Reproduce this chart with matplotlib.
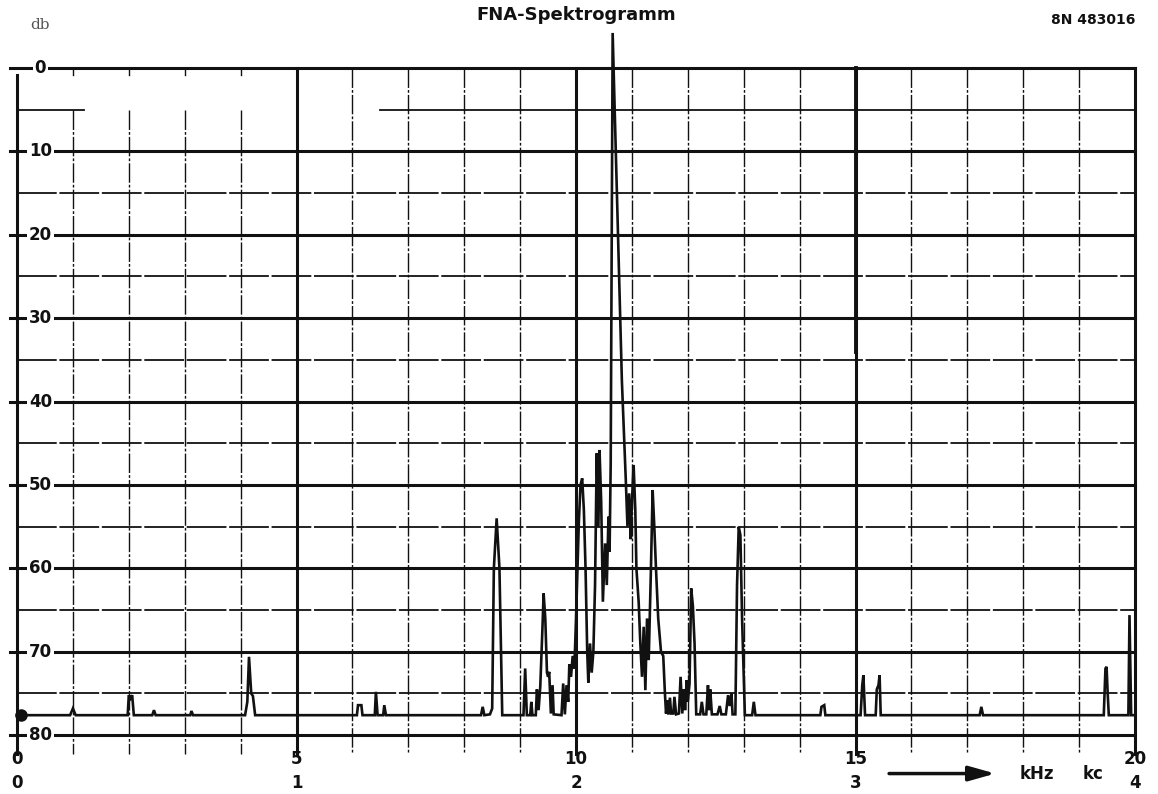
import matplotlib.pyplot as plt

# spectrum trace, frequency in kHz and level in db (0 at top, 80 at bottom)
freq_khz = [
    0.0, 0.95, 1.0, 1.05,
    1.98, 2.0, 2.03, 2.06, 2.09,
    2.42, 2.45, 2.48,
    3.1, 3.12, 3.15,
    4.08, 4.12, 4.15, 4.19, 4.22, 4.26,
    6.08, 6.1, 6.16, 6.18,
    6.4, 6.42, 6.45,
    6.55, 6.57, 6.6,
    8.3, 8.33, 8.36,
    8.46, 8.5, 8.53, 8.58, 8.63, 8.68,
    9.06, 9.09, 9.12,
    9.18, 9.2, 9.22,
    9.28, 9.3, 9.33, 9.36,
    9.4, 9.42, 9.45, 9.48, 9.5, 9.52, 9.55, 9.58, 9.6,
    9.74, 9.77, 9.8,
    9.83, 9.86, 9.88, 9.91, 9.94, 9.97, 10.0,
    10.05, 10.08, 10.11, 10.14, 10.17, 10.2, 10.22, 10.25, 10.28, 10.31,
    10.34, 10.37, 10.4, 10.42, 10.45, 10.48,
    10.52, 10.55, 10.58, 10.6, 10.62,
    10.655,
    10.75, 10.82, 10.89,
    10.92, 10.95, 10.98,
    11.0, 11.03, 11.06, 11.08,
    11.12, 11.15, 11.18, 11.21, 11.24, 11.27, 11.3, 11.34, 11.37,
    11.4, 11.43, 11.47, 11.52,
    11.56, 11.59, 11.61, 11.63, 11.65, 11.68, 11.7,
    11.74, 11.76, 11.79, 11.84, 11.87, 11.9,
    11.93, 11.95, 11.98, 12.0, 12.03,
    12.06, 12.09, 12.12, 12.15,
    12.22, 12.25, 12.28, 12.33, 12.36, 12.38, 12.4, 12.43,
    12.53, 12.57, 12.6,
    12.68, 12.72, 12.75, 12.78, 12.8,
    12.85, 12.88, 12.91, 12.94, 12.97, 13.02,
    13.15, 13.18, 13.21,
    14.37, 14.39, 14.44, 14.46,
    15.09, 15.12, 15.14, 15.17,
    15.36, 15.38, 15.41, 15.43, 15.45,
    17.22, 17.25, 17.28,
    19.44, 19.47, 19.49, 19.51, 19.53,
    19.88, 19.9, 19.93, 20.0,
]
level_db = [
    77.6, 77.6, 76.8, 77.6,
    77.6, 75.2, 75.6, 75.2, 77.6,
    77.6, 77.0, 77.6,
    77.6, 77.1, 77.6,
    77.6, 76.0, 70.6, 75.0, 75.3, 77.6,
    77.6, 76.4, 76.4, 77.6,
    77.6, 74.8, 77.6,
    77.6, 76.4, 77.6,
    77.6, 76.6, 77.6,
    77.5, 76.8, 60.0, 54.0, 60.0, 77.6,
    77.6, 72.0, 77.6,
    77.6, 76.0, 77.6,
    77.6, 74.5, 77.0, 74.2,
    67.0, 63.0, 66.0, 72.5, 73.0, 72.4, 77.4, 74.0, 77.5,
    77.6, 73.8, 77.5,
    74.0, 76.0, 71.5, 73.0, 70.5, 72.0, 66.0,
    54.5, 50.0, 49.2, 53.0, 60.0, 70.0, 73.7, 69.0, 72.5, 70.0,
    62.0, 46.2, 55.0, 45.8, 52.0, 64.0,
    57.0, 62.0, 53.8, 58.0, 47.5,
    -4.2,
    20.0, 37.5, 49.4,
    55.0, 51.0, 56.5,
    52.0, 47.6, 53.0, 60.0,
    64.0, 69.0, 73.0, 67.0, 74.6, 66.0, 71.0, 60.0, 50.6,
    55.0, 60.0, 66.0, 70.0,
    70.5, 75.0, 77.4, 75.8, 77.5, 75.5, 77.4,
    77.4, 75.4, 77.5, 77.4, 73.0, 77.4,
    74.5, 77.0, 73.4, 76.0, 73.8,
    62.4, 64.5, 69.0, 77.5,
    77.5, 76.0, 77.5, 77.5, 74.0, 77.0, 74.5, 77.5,
    77.5, 76.5, 77.5,
    77.5, 75.2, 76.5, 75.0, 77.5,
    77.5, 62.0, 55.0, 56.0, 66.0, 77.6,
    77.6, 76.0, 77.6,
    77.6, 76.6, 76.4, 77.6,
    77.6, 74.0, 72.8, 77.6,
    77.6, 74.5, 74.0, 72.8, 77.6,
    77.6, 76.6, 77.6,
    77.6, 72.0, 71.8, 75.0, 77.6,
    77.6, 65.6, 77.6, 77.6,
]

db_ticks = [0, 10, 20, 30, 40, 50, 60, 70, 80]
khz_ticks = [0, 5, 10, 15, 20]
kc_labels = ["0", "1", "2", "3", "4"]

fig = plt.figure(figsize=(11.58, 7.94), dpi=100)
ax = fig.add_axes([0, 0, 1, 1])
ax.set_xlim(-0.304, 20.41)
ax.set_ylim(87.05, -8.15)
ax.axis("off")

ink = "#111111"
vdash = (0, (14, 1.5, 2, 1.5))
hdash = (0, (22, 1.5))

# vertical grid, every kHz, heavy at 5/10/15
for k in range(1, 20):
    if k % 5 == 0:
        ax.plot([k, k], [0, 82.2], color=ink, lw=2.2, zorder=1)
    elif k < 5:
        ax.plot([k, k], [0, 0.8], color=ink, lw=1.0, zorder=1)
        ax.plot([k, k], [5, 82.2], color=ink, lw=1.0, ls=vdash, zorder=1)
    else:
        ax.plot([k, k], [0, 82.2], color=ink, lw=1.0, ls=vdash, zorder=1)
ax.plot([15, 15], [0, 34], color=ink, lw=2.8, zorder=1)

# horizontal grid, heavy every 10 db, light at the 5s
for d in range(5, 80, 10):
    if d == 5:
        ax.plot([0, 1.2], [d, d], color=ink, lw=1.3, zorder=1)
        ax.plot([6.5, 20], [d, d], color=ink, lw=1.3, zorder=1)
    else:
        ax.plot([0, 20], [d, d], color=ink, lw=1.3, ls=hdash, zorder=1)
for d in db_ticks:
    ax.plot([-0.13, 20], [d, d], color=ink, lw=2.2, zorder=1)

# frame left and right
ax.plot([0, 0], [0.8, 82.2], color=ink, lw=2.2, zorder=1)
ax.plot([20, 20], [0, 82.2], color=ink, lw=2.2, zorder=1)

# db labels sit on the grid lines
for d in db_ticks:
    ax.text(0.42, d, str(d), ha="center", va="center", fontsize=12,
            fontweight="bold", color=ink, zorder=3,
            bbox=dict(facecolor="white", edgecolor="none", pad=1.5))

# frequency labels, kHz on top row and kc below
for k, kc in zip(khz_ticks, kc_labels):
    ax.text(k, 82.9, str(k), ha="center", va="center", fontsize=12,
            fontweight="bold", color=ink)
    ax.text(k, 85.7, kc, ha="center", va="center", fontsize=12,
            fontweight="bold", color=ink)

ax.annotate("", xy=(17.55, 84.6), xytext=(15.55, 84.6),
            arrowprops=dict(arrowstyle="-|>,head_length=1.6,head_width=0.45",
                            color=ink, lw=2.5))
ax.text(18.25, 84.6, "kHz", ha="center", va="center", fontsize=12,
        fontweight="bold", color=ink)
ax.text(19.25, 84.6, "kc", ha="center", va="center", fontsize=12,
        fontweight="bold", color=ink)

ax.text(10.0, -6.4, "FNA-Spektrogramm", ha="center", va="center",
        fontsize=13, fontweight="bold", color=ink)
ax.text(20.0, -5.8, "8N 483016", ha="right", va="center", fontsize=10,
        fontweight="bold", color=ink)
ax.text(0.42, -5.2, "db", ha="center", va="center", fontsize=11,
        family="DejaVu Serif", color="#555555")

# the recorded trace
ax.plot(freq_khz, level_db, color=ink, lw=1.9, solid_joinstyle="miter", zorder=2)
ax.plot(freq_khz[0] + 0.07, level_db[0], "o", color=ink, ms=8, zorder=2)

fig.savefig("out.png", dpi=100)
